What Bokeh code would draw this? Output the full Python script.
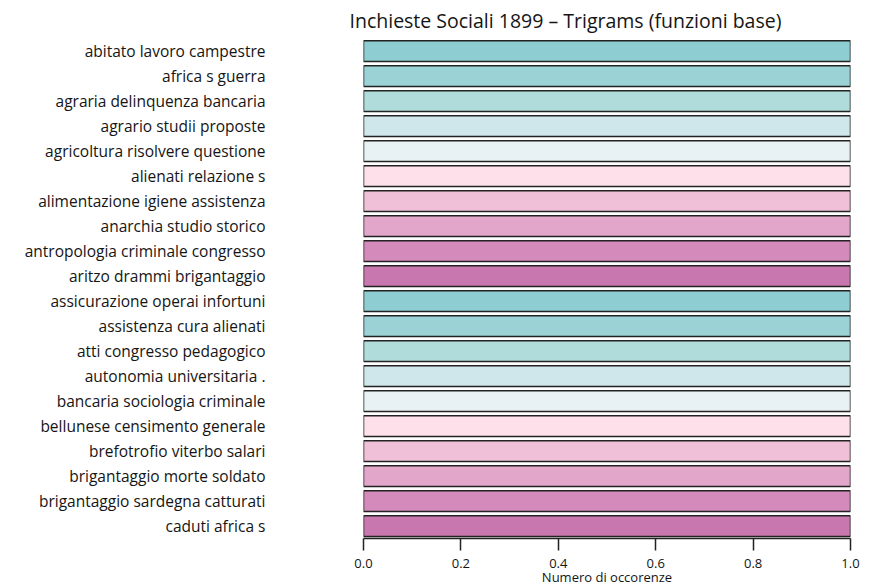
from bokeh.plotting import figure
from bokeh.models import ColumnDataSource, FactorRange, Range1d, FixedTicker, NumeralTickFormatter
from bokeh.embed import file_html
from bokeh.resources import INLINE

categories = [
    "abitato lavoro campestre",
    "africa s guerra",
    "agraria delinquenza bancaria",
    "agrario studii proposte",
    "agricoltura risolvere questione",
    "alienati relazione s",
    "alimentazione igiene assistenza",
    "anarchia studio storico",
    "antropologia criminale congresso",
    "aritzo drammi brigantaggio",
    "assicurazione operai infortuni",
    "assistenza cura alienati",
    "atti congresso pedagogico",
    "autonomia universitaria .",
    "bancaria sociologia criminale",
    "bellunese censimento generale",
    "brefotrofio viterbo salari",
    "brigantaggio morte soldato",
    "brigantaggio sardegna catturati",
    "caduti africa s",
]
counts = [1, 1, 1, 1, 1, 1, 1, 1, 1, 1, 1, 1, 1, 1, 1, 1, 1, 1, 1, 1]
palette = ["#8ecdd1", "#9bd2d6", "#b0dcdb", "#cfe6ea", "#e8f2f4",
           "#fde0ea", "#efc0d8", "#e2a6ca", "#d48bbb", "#c878ae"]
x_ticks = [0.0, 0.2, 0.4, 0.6, 0.8, 1.0]

colors = [palette[i % len(palette)] for i in range(len(categories))]
src = ColumnDataSource(dict(cat=categories, val=counts, col=colors))

FONT = "Open Sans"
INK = "#151515"

p = figure(width=866, height=588, output_backend="svg", toolbar_location=None,
           y_range=FactorRange(factors=list(reversed(categories)), range_padding=0),
           x_range=Range1d(0, 1),
           title="Inchieste Sociali 1899 \u2013 Trigrams (funzioni base)",
           min_border_left=363, min_border_right=16, min_border_top=6,
           min_border_bottom=48)

p.hbar(y="cat", right="val", left=0, height=0.83, source=src,
       fill_color="col", line_color="#222222", line_width=1.5)

p.title.text_font = FONT
p.title.text_font_size = "19.5px"
p.title.text_font_style = "normal"
p.title.text_color = INK
p.title.align = "left"
p.title.offset = -14
p.title.standoff = 9

p.outline_line_color = None
p.grid.grid_line_color = None
p.background_fill_color = "white"
p.border_fill_color = "white"

xa = p.xaxis[0]
xa.ticker = FixedTicker(ticks=x_ticks)
xa.formatter = NumeralTickFormatter(format="0.0")
xa.major_tick_in = 0
xa.major_tick_out = 12
xa.minor_tick_line_color = None
xa.axis_line_color = "#222222"
xa.major_tick_line_color = "#222222"
xa.axis_line_width = 1.5
xa.major_tick_line_width = 1.5
xa.major_label_text_font = FONT
xa.major_label_text_font_size = "13px"
xa.major_label_text_color = INK
xa.major_label_standoff = 8
xa.axis_label = "Numero di occorenze"
xa.axis_label_text_font = FONT
xa.axis_label_text_font_size = "13px"
xa.axis_label_text_font_style = "normal"
xa.axis_label_text_color = INK
xa.axis_label_standoff = -3

ya = p.yaxis[0]
ya.axis_line_color = None
ya.major_tick_line_color = None
ya.minor_tick_line_color = None
ya.major_label_standoff = 92
ya.major_label_text_font = FONT
ya.major_label_text_font_size = "15.5px"
ya.major_label_text_color = INK

open("out.html", "w").write(file_html(p, INLINE))
